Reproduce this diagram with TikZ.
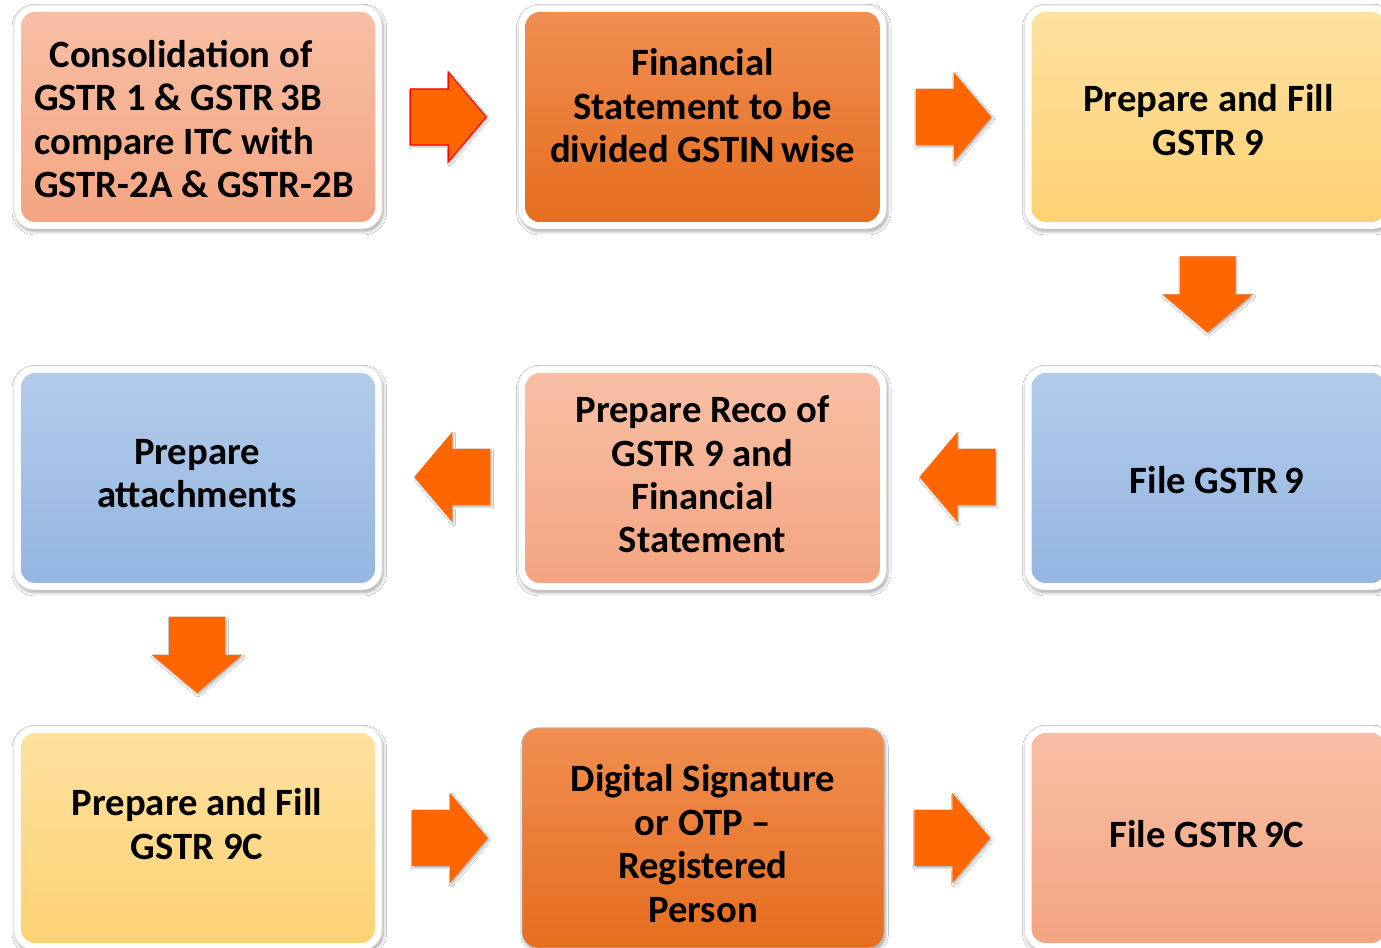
\documentclass[tikz,border=0pt]{standalone}
\usepackage{fontspec}
\setmainfont{Carlito}
\usetikzlibrary{calc,shadows,shadows.blur}

\definecolor{salmonTop}{HTML}{F7BFA5}
\definecolor{salmonBot}{HTML}{F4A582}
\definecolor{orangeTop}{HTML}{F08E51}
\definecolor{orangeBot}{HTML}{E66D1E}
\definecolor{yellowTop}{HTML}{FEE1A0}
\definecolor{yellowBot}{HTML}{FCD273}
\definecolor{blueTop}{HTML}{B3CBE9}
\definecolor{blueBot}{HTML}{94B6E2}
\definecolor{arrowFill}{HTML}{FF6600}

\tikzset{
  % white frame with a soft shadow behind each step
  frame/.style={rectangle, rounded corners=15pt, inner sep=0pt,
    minimum width=276pt, minimum height=168pt,
    fill=white, draw=black!12, line width=0.5pt,
    blur shadow={shadow xshift=1pt, shadow yshift=-2pt,
      shadow blur steps=6, shadow blur radius=2.5pt, shadow opacity=35}},
  % coloured face of a step
  stepbox/.style={rectangle, rounded corners=10.5pt, inner sep=0pt,
    minimum width=265.5pt, minimum height=157.5pt},
  salmon/.style={top color=salmonTop, bottom color=salmonBot},
  orangebox/.style={top color=orangeTop, bottom color=orangeBot},
  yellowbox/.style={top color=yellowTop, bottom color=yellowBot},
  bluebox/.style={top color=blueTop, bottom color=blueBot},
  plainbox/.style={rectangle, rounded corners=12pt, inner sep=0pt,
    minimum width=271.5pt, minimum height=165pt,
    draw=gray!55, line width=0.6pt,
    blur shadow={shadow xshift=1.2pt, shadow yshift=-2pt,
      shadow blur steps=6, shadow blur radius=2pt, shadow opacity=35}},
  txt/.style={inner sep=0pt, align=center, text=black,
    font=\fontsize{29}{32.6}\selectfont\bfseries},
  pics/blockarrow/.style={code={
    \path[fill=arrowFill, #1,
      blur shadow={shadow xshift=1pt, shadow yshift=-1.5pt,
        shadow blur steps=4, shadow blur radius=1.5pt, shadow opacity=30}]
      (-38,-28) -- (0,-28) -- (0,-45) -- (38,0) -- (0,45) -- (0,28)
      -- (-38,28) -- cycle;
  }},
  pics/blockarrow/.default={draw=none},
}

\begin{document}
\begin{tikzpicture}[x=0.75pt, y=0.75pt]
  \useasboundingbox (0,0) rectangle (1381,948);
  \clip (0,0) rectangle (1381,948);
  \fill[white] (0,0) rectangle (1381,948);

  % frames
  \node[frame] (f1) at (198,831)    {};
  \node[frame] (f2) at (702.5,831)  {};
  \node[frame] (f3) at (1208.5,831) {};
  \node[frame] (f4) at (198,470)    {};
  \node[frame] (f5) at (702.5,470)  {};
  \node[frame] (f6) at (1208.5,470) {};
  \node[frame] (f7) at (198,110)    {};
  \node[frame] (f9) at (1208.5,110) {};

  % coloured step faces
  \node[stepbox, salmon]    (b1) at (f1) {};
  \node[stepbox, orangebox] (b2) at (f2) {};
  \node[stepbox, yellowbox] (b3) at (f3) {};
  \node[stepbox, bluebox]   (b4) at (f4) {};
  \node[stepbox, salmon]    (b5) at (f5) {};
  \node[stepbox, bluebox]   (b6) at (f6) {};
  \node[stepbox, yellowbox] (b7) at (f7) {};
  \node[plainbox, orangebox](b8) at (703,110) {};
  \node[stepbox, salmon]    (b9) at (f9) {};

  % step texts
  \node[txt, align=left] (t1) at ($(b1.center)+(-4,-2)$)
    {\hspace{0.4em}Consolidation of\\GSTR 1 \& GSTR\,3B\\compare ITC with\\GSTR-2A \& GSTR-2B};
  \node[txt] (t2) at ($(b2.center)+(0,11)$)
    {Financial\\Statement to be\\divided GSTIN\,wise};
  \node[txt] (t3) at ($(b3.center)+(0,-3)$)
    {Prepare and Fill\\GSTR 9};
  \node[txt] (t4) at ($(b4.center)+(-1,4.5)$)
    {Prepare\\attachments};
  \node[txt] (t5) at ($(b5.center)+(0,3.5)$)
    {Prepare Reco of\\GSTR 9 and\\Financial\\Statement};
  \node[txt] (t6) at ($(b6.center)+(8.5,-2)$)
    {File GSTR\,9};
  \node[txt] (t7) at ($(b7.center)+(-1,14)$)
    {Prepare and Fill\\GSTR 9C};
  \node[txt] (t8) at ($(b8.center)+(0,-5.5)$)
    {Digital Signature\\or OTP --\\Registered\\Person};
  \node[txt] (t9) at ($(b9.center)+(-1.5,4)$)
    {File GSTR\,9C};

  % block arrows between the steps
  \pic at ($(f1.east)!0.5!(f2.west)+(-2,0)$) {blockarrow={draw=red, line width=0.8pt}};
  \pic at ($(f2.east)!0.5!(f3.west)+(-2,0)$) {blockarrow};
  \pic[rotate=-90] at ($(f3.south)!0.5!(f6.north)+(-1,3)$) {blockarrow};
  \pic[rotate=180] at ($(f5.east)!0.5!(f6.west)+(2,1)$) {blockarrow};
  \pic[rotate=180] at ($(f4.east)!0.5!(f5.west)+(2,1)$) {blockarrow};
  \pic[rotate=-90] at ($(f4.south)!0.5!(f7.north)+(-1,3)$) {blockarrow};
  \pic at ($(f7.east)!0.5!(b8.west)+(-2,0)$) {blockarrow};
  \pic at ($(b8.east)!0.5!(f9.west)+(-2,0)$) {blockarrow};
\end{tikzpicture}
\end{document}
